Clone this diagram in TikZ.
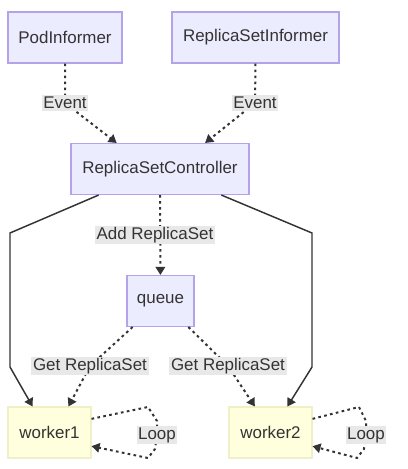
\documentclass[tikz,border=0pt]{standalone}
\usepackage{fontspec}
\setmainfont{Liberation Sans}
\usetikzlibrary{arrows.meta}
\definecolor{boxfill}{HTML}{ECECFF}
\definecolor{boxline}{HTML}{B4A2EA}
\definecolor{workfill}{HTML}{FFFFDE}
\definecolor{workline}{HTML}{F0F0C8}
\definecolor{edgeline}{HTML}{333333}
\definecolor{labelbg}{HTML}{E8E8E8}
\newcommand{\rsnode}[5] {\node at (#1) (#2) [#5, minimum width=#3pt] {#4};}
\tikzset{
  box/.style={draw=boxline, fill=boxfill, line width=0.8pt, minimum height=38.25pt,
    inner sep=0pt, text=edgeline, font=\fontsize{12.7}{15}\selectfont},
  workbox/.style={box, draw=workline, fill=workfill},
  flow/.style={draw=edgeline, line width=1.1pt, -{Triangle[length=6pt,width=7pt]}},
  dots/.style={flow, line width=1.5pt, dash pattern=on 2pt off 2.5pt},
  tag/.style={fill=labelbg, inner sep=1.2pt, text=edgeline, font=\fontsize{12.7}{15}\selectfont}
}

\begin{document}
\begin{tikzpicture}[x=0.75pt, y=-0.75pt]
\useasboundingbox (0,0) rectangle (408,469);

\rsnode {65,37.5}{pod}{85.5}{PodInformer}{box};
\rsnode {255.5,37.5}{rsi}{125.25}{ReplicaSetInformer}{box};
\rsnode {160,169}{ctrl}{133.5}{ReplicaSetController}{box};
\rsnode {160.5,301}{queue}{50.25}{queue}{box};
\rsnode {49.5,432.5}{w1}{62.25}{worker1}{workbox};
\rsnode {270.5,432.5}{w2}{62.25}{worker2}{workbox};

\draw [dots] (pod.south) -- (65,103) node [tag] {Event} -- (ctrl.149);
\draw [dots] (rsi.south) -- (255,103) node [tag] {Event} -- (ctrl.30);
\draw [flow] (ctrl.203) -- (10,233) -- (10,367) -- (w1.123);
\draw [flow] (ctrl.-23) -- (312,233) -- (312,367) -- (w2.57);
\draw [dots] (ctrl) -- node [tag, xshift=-4pt] {Add ReplicaSet} (queue);
\draw [dots] (queue.223) -- (90,366) node [tag] {Get ReplicaSet} -- (w1.54);
\draw [dots] (queue.-43) -- (228,366) node [tag] {Get ReplicaSet} -- (w2.121);
\draw [dots] (w1.18) -- (148,407) -- (157,421) -- (157,435) node [tag] {Loop} -- (155,449) -- (148,458) -- (w1.-18);
\draw [dots] (w2.18) -- (359,407) -- (366,421) -- (366,435) node [tag] {Loop} -- (364,449) -- (357,458) -- (w2.-18);

\end{tikzpicture}
\end{document}
